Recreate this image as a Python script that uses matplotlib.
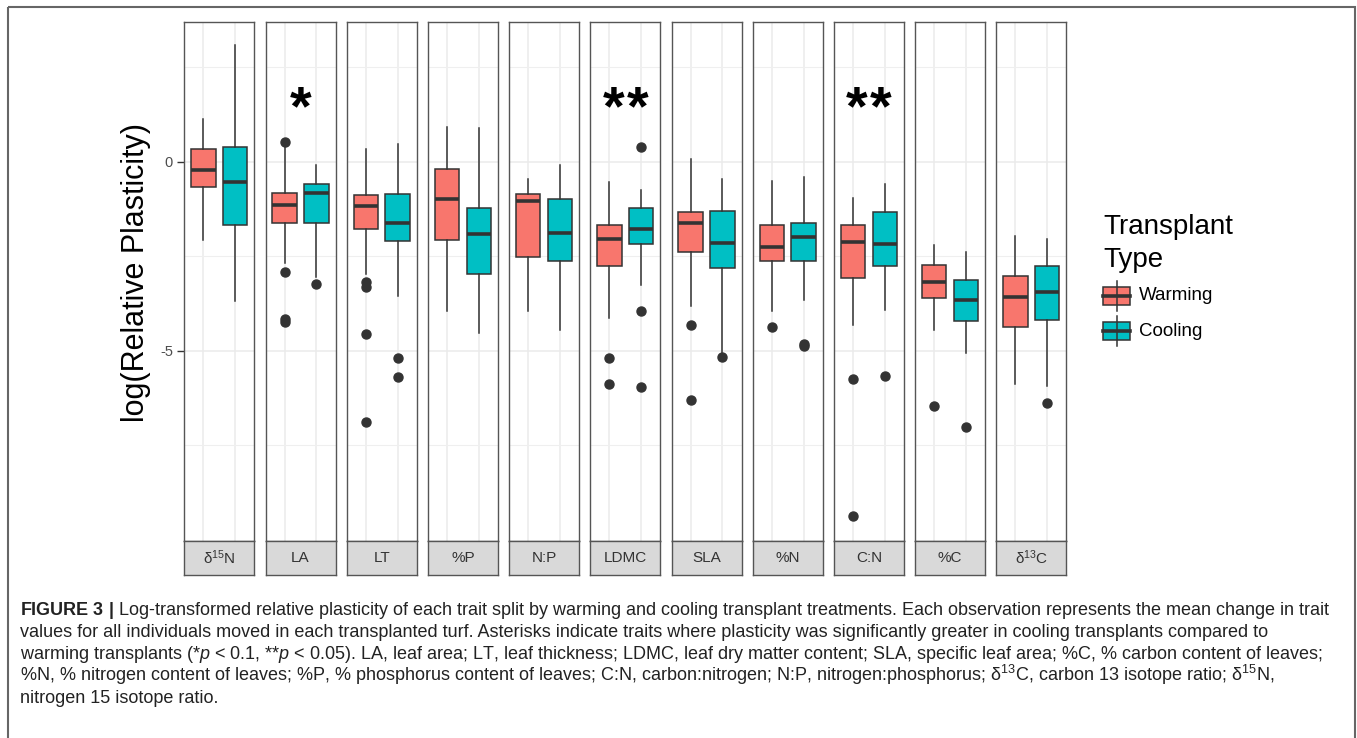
import matplotlib
matplotlib.use('Agg')
import matplotlib.pyplot as plt
from matplotlib import font_manager
from matplotlib.patches import Rectangle

# traits in facet order, significance marks
traits = ['δ$^{15}$N', 'LA', 'LT', '%P', 'N:P', 'LDMC', 'SLA', '%N', 'C:N', '%C', 'δ$^{13}$C']
stars = ['', '*', '', '', '', '**', '', '', '**', '', '']

# Warming boxes
warm_hi = [1.13, 0.38, 0.34, 0.93, -0.45, -0.55, 0.06, -0.50, -0.96, -2.21, -1.97]
warm_q3 = [0.34, -0.82, -0.89, -0.19, -0.85, -1.68, -1.34, -1.67, -1.67, -2.74, -3.03]
warm_med = [-0.21, -1.15, -1.18, -0.99, -1.03, -2.05, -1.63, -2.26, -2.12, -3.18, -3.59]
warm_q1 = [-0.68, -1.62, -1.78, -2.07, -2.52, -2.76, -2.38, -2.63, -3.08, -3.61, -4.38]
warm_lo = [-2.07, -2.69, -2.98, -3.94, -3.94, -4.13, -3.83, -3.96, -4.33, -4.44, -5.88]
warm_out = [[], [0.51, -2.92, -4.15, -4.23], [-3.17, -3.32, -4.57, -6.88], [], [],
            [-5.19, -5.89], [-4.33, -6.30], [-4.38], [-5.75, -9.38], [-6.46], []]

# Cooling boxes
cool_hi = [3.08, -0.08, 0.48, 0.89, -0.10, -0.75, -0.47, -0.40, -0.60, -2.40, -2.04]
cool_q3 = [0.40, -0.58, -0.85, -1.23, -0.98, -1.22, -1.31, -1.62, -1.33, -3.13, -2.77]
cool_med = [-0.53, -0.84, -1.62, -1.92, -1.89, -1.77, -2.16, -2.00, -2.18, -3.67, -3.44]
cool_q1 = [-1.67, -1.63, -2.10, -2.96, -2.64, -2.17, -2.82, -2.63, -2.76, -4.21, -4.20]
cool_lo = [-3.68, -3.05, -3.56, -4.52, -4.45, -3.25, -5.05, -3.67, -3.92, -5.05, -5.93]
cool_out = [[], [-3.24], [-5.19, -5.69], [], [], [0.40, -3.96, -5.96], [-5.16],
            [-4.81, -4.88], [-5.67], [-7.02], [-6.37]]

groups = ['Warming', 'Cooling']
colors = ['#F8766D', '#00BFC4']

names = {f.name for f in font_manager.fontManager.ttflist}
cap_font = 'Liberation Sans Narrow' if 'Liberation Sans Narrow' in names else 'Liberation Sans'
plt.rcParams['font.family'] = ['Liberation Sans', 'DejaVu Sans']
plt.rcParams['axes.unicode_minus'] = False
plt.rcParams['mathtext.fontset'] = 'custom'
plt.rcParams['mathtext.rm'] = cap_font
plt.rcParams['mathtext.it'] = cap_font + ':italic'
plt.rcParams['mathtext.bf'] = cap_font + ':bold'

W_PX, H_PX = 1357, 738
fig = plt.figure(figsize=(W_PX / 100, H_PX / 100), dpi=100)

# overlay in pixel coords for border, legend, caption
ov = fig.add_axes([0, 0, 1, 1])
ov.set_xlim(0, W_PX)
ov.set_ylim(H_PX, 0)
ov.axis('off')
ov.add_patch(Rectangle((8, 7), 1347, 800, fill=False, ec='#666666', lw=1.5))

p_left, p_step, p_w = 184.3, 81.2, 70.0
p_top, p_bot, s_bot = 21.8, 540.5, 575.0
edge = '#333333'

for i, tr in enumerate(traits):
    L = (p_left + i * p_step) / W_PX
    ax = fig.add_axes([L, 1 - p_bot / H_PX, p_w / W_PX, (p_bot - p_top) / H_PX])
    stats = [
        dict(med=warm_med[i], q1=warm_q1[i], q3=warm_q3[i], whislo=warm_lo[i],
             whishi=warm_hi[i], fliers=warm_out[i]),
        dict(med=cool_med[i], q1=cool_q1[i], q3=cool_q3[i], whislo=cool_lo[i],
             whishi=cool_hi[i], fliers=cool_out[i]),
    ]
    bp = ax.bxp(stats, positions=[1, 2], widths=0.77, patch_artist=True, showcaps=False,
                boxprops=dict(ec=edge, lw=1.1),
                whiskerprops=dict(color=edge, lw=1.1),
                medianprops=dict(color=edge, lw=2.6),
                flierprops=dict(marker='o', markersize=6.5, markerfacecolor=edge,
                                markeredgecolor=edge))
    for box, c in zip(bp['boxes'], colors):
        box.set_facecolor(c)
    ax.set_xlim(0.4, 2.6)
    ax.set_ylim(-10.02, 3.7)
    ax.set_xticks([1, 2])
    ax.set_xticklabels([])
    ax.set_yticks([-5, 0])
    ax.set_yticks([-7.5, -2.5, 2.5], minor=True)
    ax.grid(which='major', color='#EBEBEB', lw=1.1)
    ax.grid(which='minor', axis='y', color='#EFEFEF', lw=0.8)
    ax.set_axisbelow(True)
    ax.tick_params(axis='x', length=0)
    ax.tick_params(axis='y', which='minor', length=0)
    if i == 0:
        ax.tick_params(axis='y', length=4.8, width=1, color=edge, pad=3.4,
                       labelsize=10.5, labelcolor='#4D4D4D')
    else:
        ax.tick_params(axis='y', length=0, labelleft=False)
    for sp in ax.spines.values():
        sp.set_color('#555555')
        sp.set_linewidth(1.0)
    n = len(stars[i])
    for k, ch in enumerate(stars[i]):
        ax.text(1.5 + (k - (n - 1) / 2) * 0.76, 1.0, ch, ha='center', va='baseline',
                fontsize=40, fontweight='bold', color='black')

    sx = fig.add_axes([L, 1 - s_bot / H_PX, p_w / W_PX, (s_bot - p_bot) / H_PX])
    sx.set_facecolor('#D9D9D9')
    sx.set_xticks([])
    sx.set_yticks([])
    for sp in sx.spines.values():
        sp.set_color('#555555')
        sp.set_linewidth(1.0)
    sx.text(0.5, 0.5, tr, ha='center', va='center', fontsize=11, color='#333333',
            transform=sx.transAxes)

fig.text(136 / W_PX, 1 - 272 / H_PX, 'log(Relative Plasticity)', rotation=90,
         ha='center', va='center', fontsize=22)

# legend
ov.text(1103, 227, 'Transplant', ha='left', va='center', fontsize=20)
ov.text(1103, 260, 'Type', ha='left', va='center', fontsize=20)
for yc, c, lab in zip([296, 331], colors, groups):
    ov.plot([1116.5, 1116.5], [yc - 15, yc + 15], color=edge, lw=1.1)
    ov.add_patch(Rectangle((1103, yc - 9), 27, 18, fc=c, ec=edge, lw=1.1))
    ov.plot([1103, 1130], [yc, yc], color=edge, lw=2.6)
    ov.text(1139, yc, lab, ha='left', va='center', fontsize=13.5)

# caption
cap_lines = [
    r'$\mathbf{FIGURE\ 3\ |}$ Log-transformed relative plasticity of each trait split by warming and cooling transplant treatments. Each observation represents the mean change in trait',
    'values for all individuals moved in each transplanted turf. Asterisks indicate traits where plasticity was significantly greater in cooling transplants compared to',
    r'warming transplants (*$\mathit{p}$ < 0.1, **$\mathit{p}$ < 0.05). LA, leaf area; LT, leaf thickness; LDMC, leaf dry matter content; SLA, specific leaf area; %C, % carbon content of leaves;',
    '%N, % nitrogen content of leaves; %P, % phosphorus content of leaves; C:N, carbon:nitrogen; N:P, nitrogen:phosphorus; δ$^{13}$C, carbon 13 isotope ratio; δ$^{15}$N,',
    'nitrogen 15 isotope ratio.',
]
cap_y = [615, 637, 659, 681, 703]
cap_texts = [ov.text(20, y, s, ha='left', va='baseline', fontsize=10, color='#222222',
                     family=[cap_font, 'DejaVu Sans'])
             for s, y in zip(cap_lines, cap_y)]
r = fig.canvas.get_renderer()
w = cap_texts[0].get_window_extent(r).width
fs = 10 * 1313 / w
for t in cap_texts:
    t.set_fontsize(fs)

fig.savefig('out.png', dpi=100)
